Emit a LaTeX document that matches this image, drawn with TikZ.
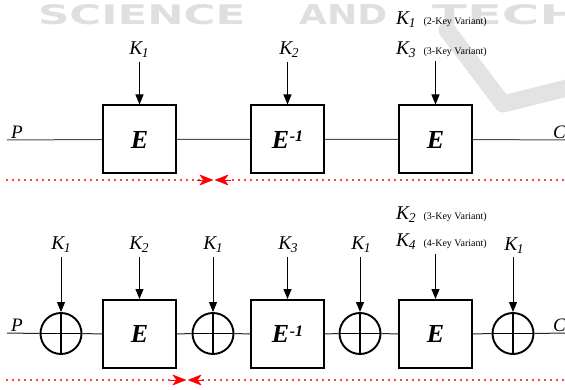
\documentclass[tikz,border=0pt]{standalone}
\usepackage{fontspec}
\usepackage{graphicx}
\setmainfont{Liberation Serif}
\newfontfamily\wmfont{DejaVu Sans}
\usetikzlibrary{arrows.meta}
\newcommand\kk[1]{{\fontsize{19.5}{19.5}\selectfont\itshape K\kern-0.3pt\raisebox{-2.5pt}{\fontsize{13.5}{13.5}\selectfont #1}}}
\newcommand\vartxt[1]{{\fontsize{10}{10}\selectfont #1}}
\newcommand\einv{E\kern0.5pt\raisebox{6.5pt}{\fontsize{16}{16}\selectfont -1}}
\begin{document}
\begin{tikzpicture}[x=1pt,y=-1pt,
  boxe/.style={draw, line width=2pt, minimum width=73pt, minimum height=68pt, inner sep=0pt,
    font=\fontsize{26}{26}\selectfont\bfseries\itshape},
  xorc/.style={circle, draw, line width=1.9pt, minimum size=41pt, inner sep=0pt,
    path picture={\draw[line width=1.5pt] (path picture bounding box.north) -- (path picture bounding box.south)
      (path picture bounding box.west) -- (path picture bounding box.east);}},
  lbl/.style={anchor=base, inner sep=0pt},
  lblw/.style={anchor=base west, inner sep=0pt},
  pc/.style={anchor=base west, inner sep=0pt, font=\fontsize{19}{19}\selectfont\itshape},
  keyarr/.style={-{Triangle[width=8pt,length=10pt]}, line width=1pt},
  mainln/.style={line width=1pt, draw=black!70},
  reddot/.style={draw=red, line width=2.4pt, dash pattern=on 0pt off 6pt, line cap=round},
  redtip/.style={-{Stealth[width=11pt,length=14pt,inset=4pt,round=false]}, red},
  wm/.style={anchor=base west, inner sep=0pt, text=gray!25}]
\useasboundingbox (0,0) rectangle (565,390);
\clip (0,0) rectangle (565,390);
% watermark
\draw[gray!22, line width=17pt, line join=round, line cap=round] (447,30) -- (503,104) -- (575,86);
\node[wm] (w1) at (38,25) {\resizebox{207pt}{20pt}{\wmfont\bfseries SCIENCE}};
\node[wm] (w2) at (299,25) {\resizebox{88pt}{20pt}{\wmfont\bfseries AND}};
\node[wm] (w3) at (432,25) {\resizebox{150pt}{20pt}{\wmfont\bfseries TECH}};
% ---------- top row ----------
\node[boxe] (t1) at (139.5,139.5) {E};
\node[boxe] (t2) at (287.5,139.5) {\einv};
\node[boxe] (t3) at (435.5,139.5) {E};
\node[pc] (tp) at (11,138.5) {P};
\node[pc] (tc) at (553,138.5) {C};
\coordinate (tin) at (7,140);
\coordinate (tout) at (565,140);
\draw[mainln] (tin) -- (t1.west) (t1.east) -- (t2.west) (t2.east) -- (t3.west) (t3.east) -- (tout);
\node[lbl] (tk1) at (139,55) {\kk1};
\node[lbl] (tk2) at (289,55) {\kk2};
\node[lblw] (tk3a) at (396,25) {\kk1\hspace{8pt}\vartxt{(2-Key Variant)}};
\node[lblw] (tk3b) at (396,55) {\kk3\hspace{8pt}\vartxt{(3-Key Variant)}};
\coordinate (ta1) at (139.5,62);
\coordinate (ta2) at (287.5,62);
\coordinate (ta3) at (435.5,61);
\draw[keyarr] (ta1) -- (t1.north);
\draw[keyarr] (ta2) -- (t2.north);
\draw[keyarr] (ta3) -- (t3.north);
\coordinate (r1s) at (7,180);
\coordinate (r1a) at (213,180);
\coordinate (r1e) at (563,180);
\coordinate (r1b) at (215,180);
\draw[reddot] (r1s) -- (199,180);
\draw[reddot] (r1e) -- (229,180);
\draw[redtip] (197,180) -- (r1a);
\draw[redtip] (231,180) -- (r1b);
% ---------- bottom row ----------
\node[xorc] (x1) at (61,333.5) {};
\node[boxe] (b1) at (139.5,334) {E};
\node[xorc] (x2) at (213,333.5) {};
\node[boxe] (b2) at (287.5,334) {\einv};
\node[xorc] (x3) at (360,333.5) {};
\node[boxe] (b3) at (435.5,334) {E};
\node[xorc] (x4) at (513,333.5) {};
\node[pc] (bp) at (11,331.5) {P};
\node[pc] (bc) at (553,331.5) {C};
\coordinate (bin) at (7,333);
\coordinate (bout) at (565,333);
\draw[mainln, draw=black!85] (bin) -- (x1.west) (x1.east) -- (b1.west) (b1.east) -- (x2.west)
  (x2.east) -- (b2.west) (b2.east) -- (x3.west) (x3.east) -- (b3.west) (b3.east) -- (x4.west) (x4.east) -- (bout);
\node[lbl] (bk1) at (61,250) {\kk1};
\node[lbl] (bk2) at (139,250) {\kk2};
\node[lbl] (bk3) at (213,250) {\kk1};
\node[lbl] (bk4) at (288,250) {\kk3};
\node[lbl] (bk5) at (361,250) {\kk1};
\node[lblw] (bk6a) at (396,220) {\kk2\hspace{8pt}\vartxt{(3-Key Variant)}};
\node[lblw] (bk6b) at (396,247) {\kk4\hspace{8pt}\vartxt{(4-Key Variant)}};
\node[lbl] (bk7) at (514,251) {\kk1};
\coordinate (ba1) at (61,257);
\coordinate (ba2) at (139.5,257);
\coordinate (ba3) at (213,257);
\coordinate (ba4) at (287.5,257);
\coordinate (ba5) at (360,257);
\coordinate (ba6) at (435.5,254);
\coordinate (ba7) at (513,257);
\draw[keyarr] (ba1) -- (x1.north);
\draw[keyarr] (ba2) -- (b1.north);
\draw[keyarr] (ba3) -- (x2.north);
\draw[keyarr] (ba4) -- (b2.north);
\draw[keyarr] (ba5) -- (x3.north);
\draw[keyarr] (ba6) -- (b3.north);
\draw[keyarr] (ba7) -- (x4.north);
\coordinate (r2s) at (7,380);
\coordinate (r2a) at (186,380);
\coordinate (r2e) at (563,380);
\coordinate (r2b) at (188,380);
\draw[reddot] (r2s) -- (172,380);
\draw[reddot] (r2e) -- (202,380);
\draw[redtip] (170,380) -- (r2a);
\draw[redtip] (204,380) -- (r2b);
\end{tikzpicture}
\end{document}
